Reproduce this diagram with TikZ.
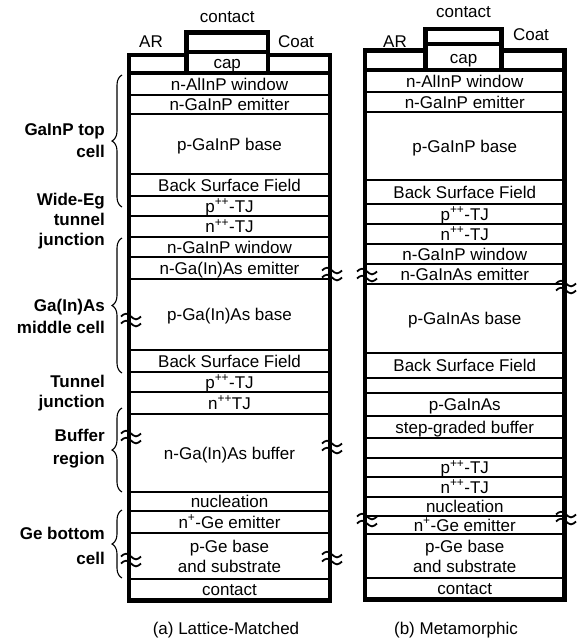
\documentclass[tikz,border=0pt]{standalone}
\usepackage{fontspec}
\setmainfont{Liberation Sans}
\usetikzlibrary{decorations.pathreplacing}
\newcommand\figfont{\fontsize{17}{20}\selectfont}

\begin{document}
\begin{tikzpicture}[
    x=1pt, y=-1pt,
    layer/.style={draw, line width=1.5pt, inner sep=0pt, font=\figfont},
    mid/.style={text height=12pt, text depth=0pt},
    capbox/.style={draw, line width=4.5pt, inner sep=0pt, font=\figfont, text height=12pt, text depth=0pt},
    frame/.style={line width=4.5pt},
    toplbl/.style={font=\figfont, inner sep=0pt},
    sidelbl/.style={font=\figfont\bfseries, align=right, anchor=east, inner sep=0pt},
    brc/.style={decorate, decoration={brace, amplitude=10pt}, line width=1.1pt},
    brk/.pic={\foreach \d in {-3.5,3.5}
        \draw[line width=1.8pt] (-10,\d) sin (-5,{\d-2.8}) cos (0,\d) sin (5,{\d+2.8}) cos (10,\d);}
]
\useasboundingbox (0,0) rectangle (578,640);

% (a) lattice-matched stack
\foreach \ya/\yb/\txt [count=\i] in {
    73/95/n-AlInP window, 95/114/n-GaInP emitter, 114/174/p-GaInP base,
    174/196/Back Surface Field, 196/216/p\textsuperscript{++}-TJ, 216/237/n\textsuperscript{++}-TJ,
    237/257/n-GaInP window, 257/279/n-Ga(In)As emitter, 279/350/p-Ga(In)As base,
    350/372/Back Surface Field, 372/392/p\textsuperscript{++}-TJ, 392/414/n\textsuperscript{++}TJ,
    414/492/n-Ga(In)As buffer, 492/511/nucleation, 511/533/n\textsuperscript{+}-Ge emitter,
    579/600.5/contact}
  \node[layer, mid, minimum width=201pt, minimum height={(\yb-\ya)*1pt}] (la\i) at (229.5,{(\ya+\yb)/2}) {\txt};
\node[layer, align=center, minimum width=201pt, minimum height=46pt] (laSub) at (229.5,556) {p-Ge base\\and substrate};
\node[capbox, minimum width=81.5pt, minimum height=21pt] (capA) at (227.25,62.5) {cap};
\node[capbox, minimum width=81.5pt, minimum height=19.5pt] (ctA) at (227.25,42.25) {};
\draw[frame] (129,55) rectangle (186.5,73);
\draw[frame] (268,55) rectangle (330,73);
\draw[frame] (129,73) rectangle (330,600.5);
\node[toplbl] (ctlA) at (227.25,17) {contact};
\node[toplbl] (arA) at (151,42) {AR};
\node[toplbl] (coA) at (296,42) {Coat};
\node[toplbl] (capA-lbl) at (226,630) {(a) Lattice-Matched};

% (b) metamorphic stack
\foreach \ya/\yb/\txt [count=\i] in {
    70/92/n-AlInP window, 92/112/n-GaInP emitter, 112/180/p-GaInP base,
    180/204/Back Surface Field, 204/224/p\textsuperscript{++}-TJ, 224/244/n\textsuperscript{++}-TJ,
    244/264/n-GaInP window, 264/284/n-GaInAs emitter, 284/353/p-GaInAs base,
    353/378/Back Surface Field, 378/393/{}, 393/416/p-GaInAs, 416/438/step-graded buffer,
    438/458/{}, 458/477/p\textsuperscript{++}-TJ, 477/497/n\textsuperscript{++}-TJ,
    497/516/nucleation, 516/534/n\textsuperscript{+}-Ge emitter, 578/599.5/contact}
  \node[layer, mid, minimum width=199.5pt, minimum height={(\yb-\ya)*1pt}] (lb\i) at (464.75,{(\ya+\yb)/2}) {\txt};
\node[layer, align=center, minimum width=199.5pt, minimum height=44pt] (lbSub) at (464.75,556) {p-Ge base\\and substrate};
\node[capbox, minimum width=76pt, minimum height=26pt] (capB) at (463.5,57) {cap};
\node[capbox, minimum width=76pt, minimum height=15pt] (ctB) at (463.5,36.5) {};
\draw[frame] (365,50.5) rectangle (425.5,70);
\draw[frame] (501.5,50.5) rectangle (564.5,70);
\draw[frame] (365,70) rectangle (564.5,599.5);
\node[toplbl] (ctlB) at (463.5,12) {contact};
\node[toplbl] (arB) at (395,42) {AR};
\node[toplbl] (coB) at (531,35) {Coat};
\node[toplbl] (capB-lbl) at (456,630) {(b) Metamorphic};

% cell labels and braces
\node[sidelbl] (topcell) at (105,141) {GaInP top\\[2pt]cell};
\node[sidelbl] (widetj) at (105,221) {Wide-Eg\\tunnel\\junction};
\node[sidelbl] (midcell) at (105,316) {Ga(In)As\\[2pt]middle cell};
\node[sidelbl] (tj) at (105,393.5) {Tunnel\\junction};
\node[sidelbl] (buf) at (105,448.5) {Buffer\\[3pt]region};
\node[sidelbl] (botcell) at (105,545.5) {Ge bottom\\[5pt]cell};
\draw[brc] (122,207) -- (122,75);
\draw[brc] (122,373) -- (122,238);
\draw[brc] (122,492) -- (122,408);
\draw[brc] (122,578) -- (122,510);

% break marks
\pic at (131,320) {brk};
\pic at (131,437) {brk};
\pic at (131,560) {brk};
\pic at (332,274) {brk};
\pic at (332,447) {brk};
\pic at (332,558) {brk};
\pic at (367,275) {brk};
\pic at (367,520) {brk};
\pic at (566,287) {brk};
\pic at (566,518) {brk};
\end{tikzpicture}
\end{document}
